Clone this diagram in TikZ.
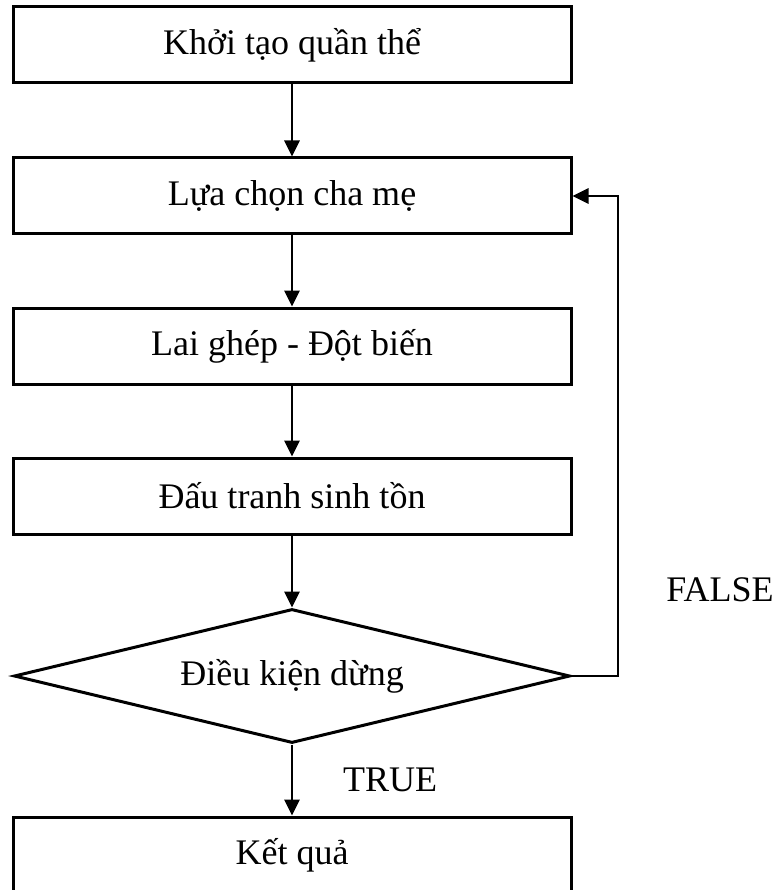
\documentclass[tikz,border=0pt]{standalone}
\usepackage{fontspec}
\setmainfont{Liberation Serif}
\usetikzlibrary{arrows.meta}
\usetikzlibrary{shapes.geometric}

\tikzset{
    khoi/.style={draw, line width=3pt, minimum width=558pt, minimum height=76pt, inner sep=0pt},
    quyetdinh/.style={draw, diamond, aspect=4.15, line width=3pt, minimum width=556pt, minimum height=134pt, inner sep=0pt},
    muiten/.style={line width=2.8pt, -{Triangle[length=16pt,width=15pt]}},
    chu/.style={font=\fontsize{36}{40}\selectfont}
}

\begin{document}
\begin{tikzpicture}[x=1pt,y=-1pt,chu]
        \clip (0,0) rectangle (782,890);
        \node[khoi] (khoitao) at (292,45) {Khởi tạo quần thể};
        \node[khoi] (luachon) at (292,196) {Lựa chọn cha mẹ};
        \node[khoi] (laighep) at (292,346) {Lai ghép - Đột biến};
        \node[khoi] (dautranh) at (292,496) {Đấu tranh sinh tồn};
        \node[quyetdinh] (dieukien) at (292,676) {Điều kiện dừng};
        \node[khoi] (ketqua) at (292,855) {Kết quả};
        \coordinate (goc1) at (618,676);
        \coordinate (goc2) at (618,196);
        \draw[muiten] (khoitao) -- (luachon);
        \draw[muiten] (luachon) -- (laighep);
        \draw[muiten] (laighep) -- (dautranh);
        \draw[muiten] (dautranh) -- (dieukien);
        \draw[muiten] (dieukien) -- (ketqua);
        \draw[muiten] (dieukien.east) -- (goc1) -- (goc2) -- (luachon.east);
        \node (sai) at (720,590) {FALSE};
        \node (dung) at (390,780) {TRUE};
    \end{tikzpicture}
\end{document}
